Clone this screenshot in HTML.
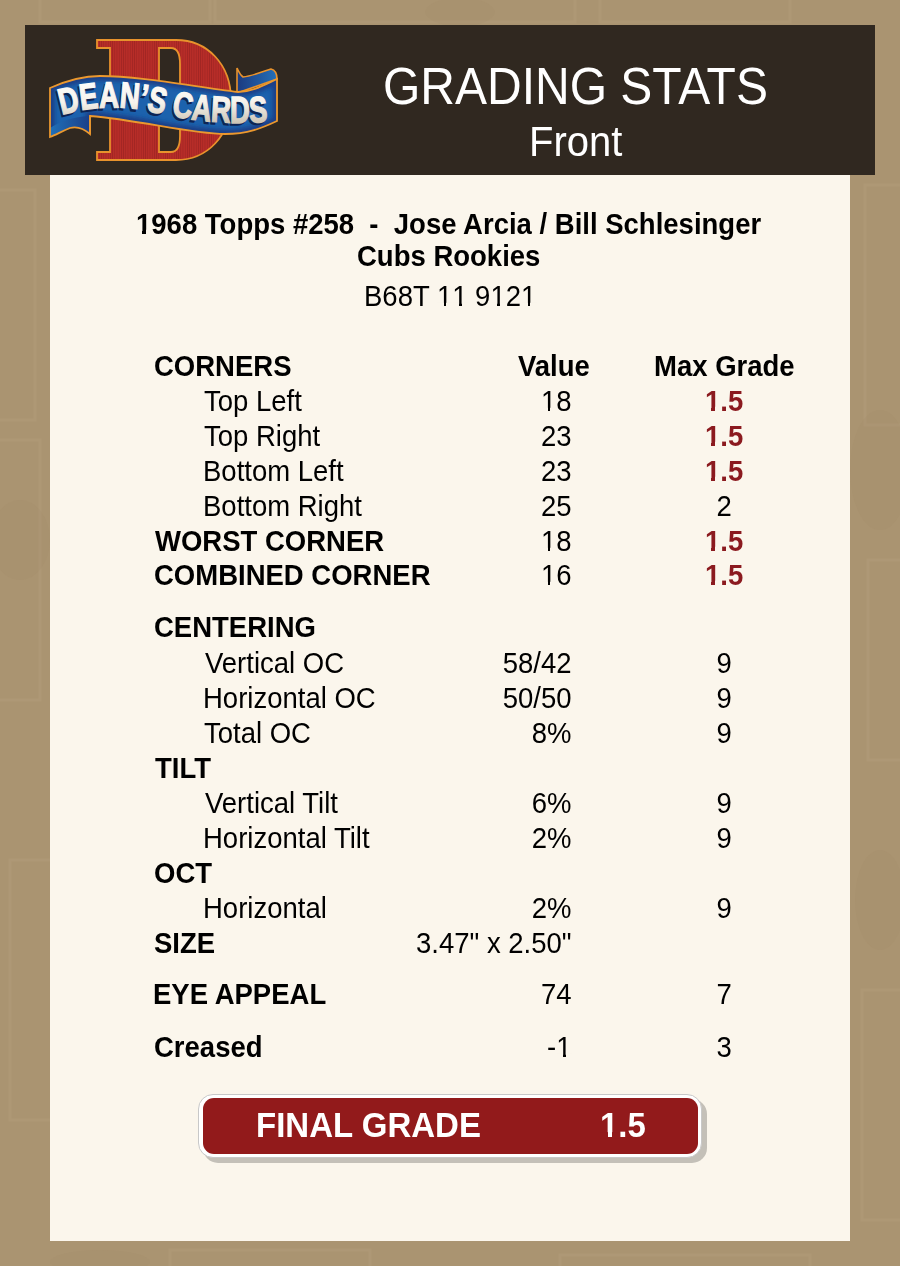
<!DOCTYPE html>
<html><head><meta charset="utf-8">
<style>
html,body{margin:0;padding:0;}
body{width:900px;height:1266px;position:relative;overflow:hidden;background:#ab9572;font-family:"Liberation Sans",sans-serif;}
#hdr{position:absolute;left:25px;top:25px;width:850px;height:150px;background:#302820;}
#panel{position:absolute;left:50px;top:175px;width:800px;height:1066px;background:#fbf6ec;}
.t{position:absolute;white-space:nowrap;line-height:1;transform-origin:0 0;}
#btn{position:absolute;left:198px;top:1094px;width:502px;height:62px;border:1px solid #c8c8c8;border-radius:15px;background:#fff;box-shadow:5px 5px 0 #c4c0b8;}
#btnr{position:absolute;left:203px;top:1098px;width:495px;height:56px;border-radius:11px;background:#921a1b;}
#logo{position:absolute;left:0;top:0;}
</style></head><body>
<svg id="bg" width="900" height="1266" style="position:absolute;left:0;top:0">
<rect width="900" height="1266" fill="#aa9471"/>
<g fill="none" stroke="#b8a380" stroke-width="3" opacity="0.3">
<rect x="-20" y="190" width="55" height="230"/>
<rect x="-30" y="440" width="70" height="260"/>
<rect x="10" y="860" width="45" height="260"/>
<rect x="865" y="185" width="60" height="240"/>
<rect x="868" y="560" width="60" height="200"/>
<rect x="862" y="990" width="60" height="230"/>
<rect x="215" y="-40" width="360" height="62"/>
<rect x="40" y="-40" width="170" height="62"/>
<rect x="600" y="-40" width="190" height="62"/>
<rect x="170" y="1250" width="200" height="60"/>
<rect x="560" y="1255" width="250" height="60"/>
</g>
<g fill="#9c8563" opacity="0.12">
<ellipse cx="20" cy="540" rx="30" ry="40"/>
<ellipse cx="880" cy="470" rx="30" ry="60"/>
<ellipse cx="880" cy="900" rx="25" ry="50"/>
<ellipse cx="100" cy="1262" rx="50" ry="12"/>
<ellipse cx="460" cy="12" rx="35" ry="14"/>
</g>
</svg>

<div id="hdr"></div>
<div id="panel"></div>
<svg id="logo" width="300" height="180" viewBox="0 0 300 180">
<defs>
<pattern id="stripes" width="2.2" height="10" patternUnits="userSpaceOnUse">
<rect width="2.2" height="10" fill="#b82d28"/>
<rect width="0.8" height="10" fill="#a02523"/>
</pattern>
<linearGradient id="flap" x1="0" y1="0" x2="1" y2="0">
<stop offset="0" stop-color="#1b3a80"/>
<stop offset="1" stop-color="#2470b8"/>
</linearGradient>
<linearGradient id="flapL" x1="0" y1="0" x2="1" y2="0">
<stop offset="0" stop-color="#2070b8"/>
<stop offset="1" stop-color="#1b3f88"/>
</linearGradient>
<linearGradient id="txt" x1="0" y1="0" x2="0" y2="1">
<stop offset="0" stop-color="#ffffff"/>
<stop offset="0.5" stop-color="#f6f3ec"/>
<stop offset="1" stop-color="#bdb3a0"/>
</linearGradient>
<path id="band" d="M50,88 C68,80 84,76 100,76 C140,76 190,86 238,92 C252,92 264,85 277,79 L277,121 C262,128 248,134 225,134 C190,134 140,120 90,116 L90,134 C83,128 77,126 70,128 C62,131 56,135 50,137 Z"/>
<clipPath id="bandclip"><use href="#band"/></clipPath>
<filter id="bl" x="-10%" y="-30%" width="120%" height="160%"><feGaussianBlur stdDeviation="2.2"/></filter>
<path id="tp" d="M62,115 C88,107 118,105 148,111 C183,119 228,127 281,120"/>
</defs>
<path d="M97,40 L176,40 C207,40 231,64 231,100 C231,136 207,160 176,160 L97,160 L97,152 L110,152 L110,48 L97,48 Z M159,48 L159,152 L171,152 C177,152 180,146 180,136 L180,64 C180,54 177,48 171,48 Z" fill="url(#stripes)" fill-rule="evenodd" stroke="#e8922c" stroke-width="1.8"/>
<path d="M237,93 L237,68 C239,72 240,75 243,77 C252,76 262,72 271,69 C275,70 277,74 277,79 Z" fill="url(#flap)" stroke="#e8922c" stroke-width="1.6"/>
<use href="#band" fill="#1c62ad"/>
<g clip-path="url(#bandclip)"><use href="#band" fill="none" stroke="#1a3c85" stroke-width="9" filter="url(#bl)"/>
<path d="M50,137 C56,135 62,131 70,128 C77,126 83,128 90,134 L90,116 C70,117 60,122 50,128 Z" fill="url(#flapL)"/></g>
<use href="#band" fill="none" stroke="#eb982e" stroke-width="1.8"/>
<path d="M90,134 L90,116" stroke="#eb982e" stroke-width="1.6"/>
<text font-family="Liberation Sans" font-weight="bold" font-size="36.5" fill="#0d2455" stroke="#0d2455" stroke-width="1.5" transform="translate(-1.5,2.2)"><textPath href="#tp" textLength="208" lengthAdjust="spacingAndGlyphs">DEAN’S CARDS</textPath></text>
<text font-family="Liberation Sans" font-weight="bold" font-size="36.5" fill="url(#txt)" stroke="url(#txt)" stroke-width="1.4"><textPath href="#tp" textLength="208" lengthAdjust="spacingAndGlyphs">DEAN’S CARDS</textPath></text>
</svg>

<div id="btn"></div>
<div id="btnr"></div>
<style>.t{position:absolute;white-space:nowrap;line-height:1;transform-origin:0 0;font-family:"Liberation Sans",sans-serif;}
.o1{position:relative;}
.o1::before,.o1::after{content:"";position:absolute;background:var(--bg);}
.n .o1::before{top:calc(0.905em - 0.0747em - 1px);height:calc(0.0747em + 2px);left:0.02em;width:0.2265em;}
.n .o1::after{top:calc(0.905em - 0.0747em - 1px);height:calc(0.0747em + 2px);left:0.3448em;width:0.22em;}
.b .o1::before{top:calc(0.905em - 0.102em - 1px);height:calc(0.102em + 2px);left:0.01em;width:0.2184em;}
.b .o1::after{top:calc(0.905em - 0.102em - 1px);height:calc(0.102em + 2px);left:0.3756em;width:0.21em;}
</style>
<div class="t n" style="left:383.00px;top:60px;color:#fff;font-weight:normal;font-size:48px;transform:scaleY(1.09);">GRADING STATS</div>
<div class="t n" style="left:529.00px;top:120px;color:#fff;font-weight:normal;font-size:40px;transform:scaleY(1.07);">Front</div>
<div class="t b" style="left:136.00px;top:210px;color:#000;font-weight:bold;font-size:27.5px;transform:scaleY(1.04);"><span class="o1" style="--bg:#fbf6ec">1</span>968 Topps #258 &nbsp;- &nbsp;Jose Arcia / Bill Schlesinger</div>
<div class="t b" style="left:357.00px;top:242px;color:#000;font-weight:bold;font-size:27.5px;transform:scaleY(1.04);">Cubs Rookies</div>
<div class="t n" style="left:364.00px;top:282px;color:#000;font-weight:normal;font-size:27.5px;transform:scaleY(1.04);">B68T <span class="o1" style="--bg:#fbf6ec">1</span><span class="o1" style="--bg:#fbf6ec">1</span> 9<span class="o1" style="--bg:#fbf6ec">1</span>2<span class="o1" style="--bg:#fbf6ec">1</span></div>
<div class="t b" style="left:518.00px;top:352px;color:#000;font-weight:bold;font-size:27.5px;transform:scaleY(1.04);">Value</div>
<div class="t b" style="left:654.00px;top:352px;color:#000;font-weight:bold;font-size:27.5px;transform:scaleY(1.04);">Max Grade</div>
<div class="t b" style="left:154.00px;top:352px;color:#000;font-weight:bold;font-size:27.5px;transform:scaleY(1.04);">CORNERS</div>
<div class="t n" style="left:204.00px;top:387px;color:#000;font-weight:normal;font-size:27.5px;transform:scaleY(1.04);">Top Left</div>
<div class="t n" style="left:541.00px;top:387px;color:#000;font-weight:normal;font-size:27.5px;transform:scaleY(1.04);"><span class="o1" style="--bg:#fbf6ec">1</span>8</div>
<div class="t b" style="left:705.00px;top:387px;color:#8b1a1f;font-weight:bold;font-size:27.5px;transform:scaleY(1.04);"><span class="o1" style="--bg:#fbf6ec">1</span>.5</div>
<div class="t n" style="left:204.00px;top:422px;color:#000;font-weight:normal;font-size:27.5px;transform:scaleY(1.04);">Top Right</div>
<div class="t n" style="left:541.00px;top:422px;color:#000;font-weight:normal;font-size:27.5px;transform:scaleY(1.04);">23</div>
<div class="t b" style="left:705.00px;top:422px;color:#8b1a1f;font-weight:bold;font-size:27.5px;transform:scaleY(1.04);"><span class="o1" style="--bg:#fbf6ec">1</span>.5</div>
<div class="t n" style="left:203.00px;top:457px;color:#000;font-weight:normal;font-size:27.5px;transform:scaleY(1.04);">Bottom Left</div>
<div class="t n" style="left:541.00px;top:457px;color:#000;font-weight:normal;font-size:27.5px;transform:scaleY(1.04);">23</div>
<div class="t b" style="left:705.00px;top:457px;color:#8b1a1f;font-weight:bold;font-size:27.5px;transform:scaleY(1.04);"><span class="o1" style="--bg:#fbf6ec">1</span>.5</div>
<div class="t n" style="left:203.00px;top:492px;color:#000;font-weight:normal;font-size:27.5px;transform:scaleY(1.04);">Bottom Right</div>
<div class="t n" style="left:541.00px;top:492px;color:#000;font-weight:normal;font-size:27.5px;transform:scaleY(1.04);">25</div>
<div class="t n" style="left:716.47px;top:492px;color:#000;font-weight:normal;font-size:27.5px;transform:scaleY(1.04);">2</div>
<div class="t b" style="left:155.00px;top:527px;color:#000;font-weight:bold;font-size:27.5px;transform:scaleY(1.04);">WORST CORNER</div>
<div class="t n" style="left:541.00px;top:527px;color:#000;font-weight:normal;font-size:27.5px;transform:scaleY(1.04);"><span class="o1" style="--bg:#fbf6ec">1</span>8</div>
<div class="t b" style="left:705.00px;top:527px;color:#8b1a1f;font-weight:bold;font-size:27.5px;transform:scaleY(1.04);"><span class="o1" style="--bg:#fbf6ec">1</span>.5</div>
<div class="t b" style="left:154.00px;top:561px;color:#000;font-weight:bold;font-size:27.5px;transform:scaleY(1.04);">COMBINED CORNER</div>
<div class="t n" style="left:541.00px;top:561px;color:#000;font-weight:normal;font-size:27.5px;transform:scaleY(1.04);"><span class="o1" style="--bg:#fbf6ec">1</span>6</div>
<div class="t b" style="left:705.00px;top:561px;color:#8b1a1f;font-weight:bold;font-size:27.5px;transform:scaleY(1.04);"><span class="o1" style="--bg:#fbf6ec">1</span>.5</div>
<div class="t b" style="left:154.00px;top:613px;color:#000;font-weight:bold;font-size:27.5px;transform:scaleY(1.04);">CENTERING</div>
<div class="t n" style="left:205.00px;top:649px;color:#000;font-weight:normal;font-size:27.5px;transform:scaleY(1.04);">Vertical OC</div>
<div class="t n" style="left:502.77px;top:649px;color:#000;font-weight:normal;font-size:27.5px;transform:scaleY(1.04);">58/42</div>
<div class="t n" style="left:716.47px;top:649px;color:#000;font-weight:normal;font-size:27.5px;transform:scaleY(1.04);">9</div>
<div class="t n" style="left:203.00px;top:684px;color:#000;font-weight:normal;font-size:27.5px;transform:scaleY(1.04);">Horizontal OC</div>
<div class="t n" style="left:502.77px;top:684px;color:#000;font-weight:normal;font-size:27.5px;transform:scaleY(1.04);">50/50</div>
<div class="t n" style="left:716.47px;top:684px;color:#000;font-weight:normal;font-size:27.5px;transform:scaleY(1.04);">9</div>
<div class="t n" style="left:204.00px;top:719px;color:#000;font-weight:normal;font-size:27.5px;transform:scaleY(1.04);">Total OC</div>
<div class="t n" style="left:531.84px;top:719px;color:#000;font-weight:normal;font-size:27.5px;transform:scaleY(1.04);">8%</div>
<div class="t n" style="left:716.47px;top:719px;color:#000;font-weight:normal;font-size:27.5px;transform:scaleY(1.04);">9</div>
<div class="t b" style="left:155.00px;top:754px;color:#000;font-weight:bold;font-size:27.5px;transform:scaleY(1.04);">TILT</div>
<div class="t n" style="left:205.00px;top:789px;color:#000;font-weight:normal;font-size:27.5px;transform:scaleY(1.04);">Vertical Tilt</div>
<div class="t n" style="left:531.84px;top:789px;color:#000;font-weight:normal;font-size:27.5px;transform:scaleY(1.04);">6%</div>
<div class="t n" style="left:716.47px;top:789px;color:#000;font-weight:normal;font-size:27.5px;transform:scaleY(1.04);">9</div>
<div class="t n" style="left:203.00px;top:824px;color:#000;font-weight:normal;font-size:27.5px;transform:scaleY(1.04);">Horizontal Tilt</div>
<div class="t n" style="left:531.84px;top:824px;color:#000;font-weight:normal;font-size:27.5px;transform:scaleY(1.04);">2%</div>
<div class="t n" style="left:716.47px;top:824px;color:#000;font-weight:normal;font-size:27.5px;transform:scaleY(1.04);">9</div>
<div class="t b" style="left:154.00px;top:859px;color:#000;font-weight:bold;font-size:27.5px;transform:scaleY(1.04);">OCT</div>
<div class="t n" style="left:203.00px;top:894px;color:#000;font-weight:normal;font-size:27.5px;transform:scaleY(1.04);">Horizontal</div>
<div class="t n" style="left:531.84px;top:894px;color:#000;font-weight:normal;font-size:27.5px;transform:scaleY(1.04);">2%</div>
<div class="t n" style="left:716.47px;top:894px;color:#000;font-weight:normal;font-size:27.5px;transform:scaleY(1.04);">9</div>
<div class="t b" style="left:154.00px;top:929px;color:#000;font-weight:bold;font-size:27.5px;transform:scaleY(1.04);">SIZE</div>
<div class="t n" style="left:415.98px;top:929px;color:#000;font-weight:normal;font-size:27.5px;transform:scaleY(1.04);">3.47&quot; x 2.50&quot;</div>
<div class="t b" style="left:153.00px;top:980px;color:#000;font-weight:bold;font-size:27.5px;transform:scaleY(1.04);">EYE APPEAL</div>
<div class="t n" style="left:541.00px;top:980px;color:#000;font-weight:normal;font-size:27.5px;transform:scaleY(1.04);">74</div>
<div class="t n" style="left:716.47px;top:980px;color:#000;font-weight:normal;font-size:27.5px;transform:scaleY(1.04);">7</div>
<div class="t b" style="left:154.00px;top:1033px;color:#000;font-weight:bold;font-size:27.5px;transform:scaleY(1.04);">Creased</div>
<div class="t n" style="left:547.12px;top:1033px;color:#000;font-weight:normal;font-size:27.5px;transform:scaleY(1.04);">-<span class="o1" style="--bg:#fbf6ec">1</span></div>
<div class="t n" style="left:716.47px;top:1033px;color:#000;font-weight:normal;font-size:27.5px;transform:scaleY(1.04);">3</div>
<div class="t b" style="left:256.00px;top:1108px;color:#fff;font-weight:bold;font-size:33px;transform:scaleY(1.05);">FINAL GRADE</div>
<div class="t b" style="left:600.00px;top:1108px;color:#fff;font-weight:bold;font-size:33px;transform:scaleY(1.05);"><span class="o1" style="--bg:#921a1b">1</span>.5</div>
</body></html>
